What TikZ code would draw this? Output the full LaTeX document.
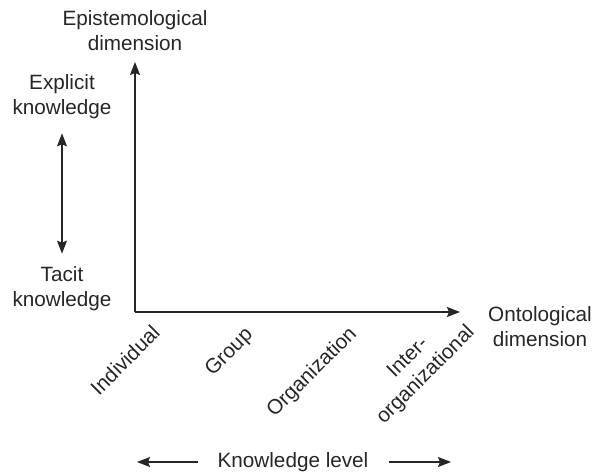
\documentclass[tikz,border=0pt]{standalone}
\usepackage{fontspec}
\setmainfont{Liberation Sans}
\usetikzlibrary{arrows.meta,positioning}

\begin{document}
\begin{tikzpicture}[
  x=1pt, y=-1pt,
  font=\fontsize{20.7}{25}\selectfont,
  every node/.style={text=black!85, inner sep=0pt},
  label/.style={align=center},
  level/.style={rotate=45, anchor=east, align=center},
  axis/.style={-{Stealth[length=13pt, width=10pt, inset=2pt]}, line width=1.2pt, draw=black!85},
  dblarrow/.style={{Stealth[length=13pt, width=10pt, inset=2pt]}-{Stealth[length=13pt, width=10pt, inset=2pt]}, line width=1.2pt, draw=black!85}
]
\useasboundingbox (0,0) rectangle (597,476);

% axes
\coordinate (origin) at (135,312);
\coordinate (ytip)   at (135,62);
\coordinate (xtip)   at (460,312);

\node[label] (epis)  at (135,31)  {Epistemological\\dimension};
\node[label] (onto)  at (540,327) {Ontological\\dimension};

\draw[axis] (origin) -- (ytip);
\draw[axis] (origin) -- (xtip);

% epistemological scale
\node[label] (explicit) at (62,97)  {Explicit\\knowledge};
\node[label] (tacit)    at (62,289) {Tacit\\knowledge};
\draw[dblarrow, shorten <=14pt, shorten >=13pt] (explicit) -- (tacit);

% ontological levels
\node[level] (indiv) at (156,329) {Individual};
\node[level] (group) at (250,332) {Group};
\node[level] (orga)  at (354,331) {Organization};
\node[level] (inter) at (463,321) {Inter-\\organizational};

% knowledge level
\node (klevel) at (293,462) {Knowledge level};
\coordinate (kl-left)  at (137,462);
\coordinate (kl-right) at (451,462);
\draw[axis, shorten <=19pt] (klevel.west) -- (kl-left);
\draw[axis, shorten <=20pt] (klevel.east) -- (kl-right);
\end{tikzpicture}
\end{document}
